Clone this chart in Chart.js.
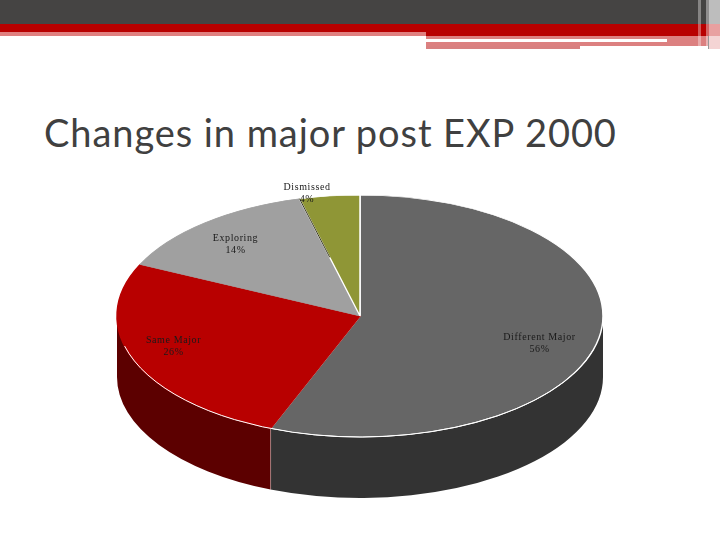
<!DOCTYPE html>
<html><head><meta charset="utf-8">
<style>
html,body{margin:0;padding:0;background:#fff;width:720px;height:540px;overflow:hidden}
#wrap{position:relative;width:720px;height:540px}
#wrap canvas{position:absolute;left:0;top:0}
.b{position:absolute}
#title{position:absolute;left:44px;top:109px;font:38px Lato,sans-serif;color:#404040;white-space:nowrap;letter-spacing:.93px}
</style>
<script src="https://cdn.jsdelivr.net/npm/chart.js@4"></script>
</head><body>
<div id="wrap">
<div class="b" style="left:0;top:0;width:720px;height:24px;background:#454443"></div>
<div class="b" style="left:0;top:24px;width:720px;height:8px;background:#b80000"></div>
<div class="b" style="left:0;top:32px;width:426px;height:4px;background:#e08080"></div>
<div class="b" style="left:426px;top:32px;width:294px;height:4px;background:#b80000"></div>
<div class="b" style="left:426px;top:36px;width:283px;height:10px;background:#dc8080"></div>
<div class="b" style="left:426px;top:39px;width:241px;height:3px;background:#ffffff"></div>
<div class="b" style="left:426px;top:46px;width:154px;height:3px;background:#d88080"></div>
<div class="b" style="left:698px;top:0;width:3px;height:46px;background:rgba(255,255,255,.35)"></div>
<div class="b" style="left:706px;top:0;width:3px;height:46px;background:rgba(255,255,255,.4)"></div>
<div class="b" style="left:708px;top:36px;width:1px;height:13px;background:#999"></div>
<div class="b" style="left:709px;top:0;width:11px;height:24px;background:#bdbdbd"></div>
<div class="b" style="left:709px;top:24px;width:11px;height:12px;background:#e8a0a0"></div>
<div class="b" style="left:709px;top:36px;width:11px;height:13px;background:#f4d4d4"></div>
<div id="title">Changes in major post EXP 2000</div>
<canvas id="c" width="720" height="540"></canvas>
</div>
<script>
const categories = ["Different Major", "Same Major", "Exploring", "Dismissed"];
const values = [56, 26, 14, 4];
const tickLabels = ["56%", "26%", "14%", "4%"];
const topColors = ["#666666", "#b80000", "#a0a0a0", "#8f9636"];
const edgeColors = ["#ffffff", "#b80000", "#a0a0a0", "#ffffff"];
const sideColors = ["#333333", "#5c0000", "#505050", "#484b1b"];
const labelSpots = [[539.5,337],[173.5,340],[235.5,238],[307,187]];

const CY = 316, SQUASH = 0.4979, DEPTH = 61;

const tilt = {
  id: "tilt",
  beforeDatasetsDraw(chart) {
    const ctx = chart.ctx, arcs = chart.getDatasetMeta(0).data;
    const rx = arcs[0].outerRadius, ry = rx * SQUASH, cx = arcs[0].x;
    arcs.forEach((a, i) => {
      const s = Math.max(a.startAngle, 0), e = Math.min(a.endAngle, Math.PI);
      if (e <= s) return;
      ctx.beginPath();
      ctx.ellipse(cx, CY, rx, ry, 0, s, e);
      ctx.ellipse(cx, CY + DEPTH, rx, ry, 0, e, s, true);
      ctx.closePath();
      ctx.fillStyle = sideColors[i];
      ctx.fill();
      if (a.endAngle > 0 && a.endAngle < Math.PI) {
        const x = cx + rx * Math.cos(a.endAngle), y = CY + ry * Math.sin(a.endAngle);
        ctx.beginPath(); ctx.moveTo(x, y); ctx.lineTo(x, y + DEPTH);
        ctx.strokeStyle = "#ffffff"; ctx.lineWidth = 1; ctx.stroke();
      }
    });
    ctx.save();
    ctx.translate(0, CY);
    ctx.scale(1, SQUASH);
    ctx.translate(0, -arcs[0].y);
  },
  afterDatasetsDraw(chart) {
    const ctx = chart.ctx, arcs = chart.getDatasetMeta(0).data;
    ctx.restore();
    const a = arcs[3], rx = a.outerRadius, ry = rx * SQUASH;
    // white rim along the front edge of the top face
    ctx.beginPath();
    ctx.ellipse(a.x, CY, rx, ry, 0, Math.PI * 0.09, Math.PI * 0.92);
    ctx.strokeStyle = "#ffffff"; ctx.lineWidth = 1; ctx.stroke();
    // dark upper part of the Exploring / Dismissed edge
    const c = Math.cos(a.startAngle), s = Math.sin(a.startAngle);
    ctx.beginPath();
    ctx.moveTo(a.x + rx * c, CY + ry * s);
    ctx.lineTo(a.x + rx * c * 0.5, CY + ry * s * 0.5);
    ctx.strokeStyle = "#3a3a20"; ctx.lineWidth = 1; ctx.stroke();
    // data labels
    ctx.fillStyle = "#1a1a1a";
    ctx.font = '10px "Liberation Serif", serif';
    ctx.textAlign = "center"; ctx.textBaseline = "middle";
    if ("letterSpacing" in ctx) ctx.letterSpacing = "0.6px";
    categories.forEach((n, i) => {
      const [x, y] = labelSpots[i];
      ctx.fillText(n, x, y);
      ctx.fillText(tickLabels[i], x, y + 12);
    });
  }
};

new Chart(document.getElementById("c"), {
  type: "pie",
  data: {
    labels: categories,
    datasets: [{
      data: values,
      backgroundColor: topColors,
      borderColor: edgeColors,
      borderWidth: 1.5,
      radius: 243,
      clip: false
    }]
  },
  options: {
    responsive: false,
    animation: false,
    events: [],
    layout: { padding: 0 },
    plugins: { legend: { display: false }, tooltip: { enabled: false }, title: { display: false } }
  },
  plugins: [tilt]
});
</script>
</body></html>
